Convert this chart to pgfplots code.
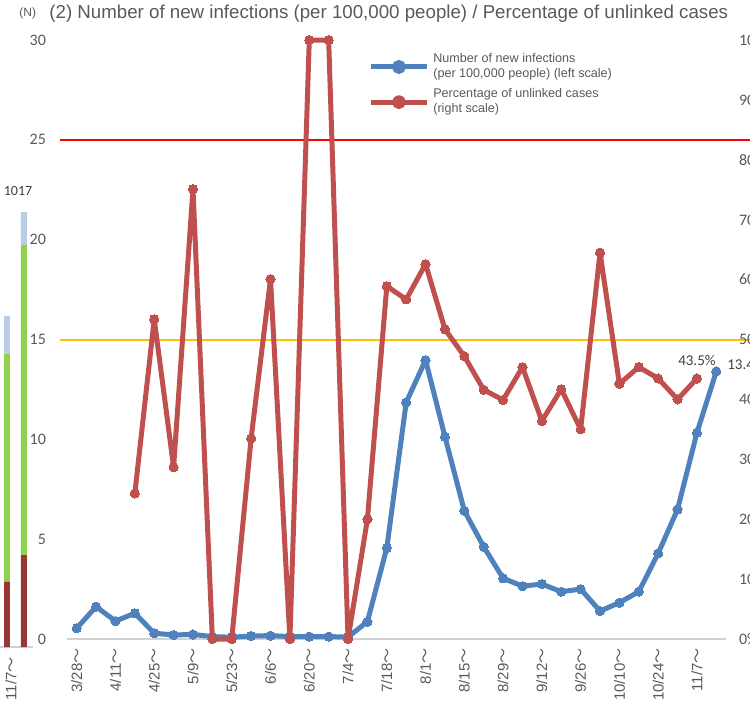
\documentclass[border=0pt]{standalone}
\usepackage{fontspec}
\setmainfont{Liberation Sans}
\newfontfamily\calf{Carlito}
\newfontfamily\cjk{Noto Sans CJK JP}
\usepackage{pgfplots}
\usepackage{pgfplotstable}
\pgfplotsset{compat=1.18}
\definecolor{cblue}{HTML}{4F81BD}
\definecolor{cred}{HTML}{C0504D}
\definecolor{txt}{HTML}{595959}
\definecolor{dred}{HTML}{953735}
\definecolor{grn}{HTML}{92D050}
\definecolor{lblue}{HTML}{B9CDE5}
\definecolor{thrY}{HTML}{FFC000}
\newcommand{\tl}{{\cjk ～}}

\pgfplotstableread{
idx val
0 0.54
1 1.62
2 0.90
3 1.29
4 0.29
5 0.20
6 0.23
7 0.12
8 0.09
9 0.15
10 0.17
11 0.12
12 0.12
13 0.12
14 0.10
15 0.87
16 4.56
17 11.85
18 13.97
19 10.13
20 6.42
21 4.62
22 3.04
23 2.65
24 2.75
25 2.37
26 2.50
27 1.40
28 1.82
29 2.37
30 4.29
31 6.49
32 10.33
33 13.4
}\newinf

\pgfplotstableread{
idx val
3 24.3
4 53.4
5 28.7
6 75.1
7 0
8 0
9 33.5
10 60.1
11 0
12 100
13 100
14 0
15 20.0
16 58.9
17 56.7
18 62.6
19 51.7
20 47.2
21 41.6
22 39.9
23 45.4
24 36.4
25 41.7
26 35.0
27 64.5
28 42.6
29 45.4
30 43.5
31 40.0
32 43.5
}\unlinked

\begin{document}
\begin{tikzpicture}
% neighbouring panel (cut off)
\begin{axis}[at={(0pt,-323.5pt)}, anchor=south west, scale only axis,
  width=16.5pt, height=217.5pt, xmin=0, xmax=33, ymin=0, ymax=1017,
  ybar stacked, bar width=2.9pt,
  axis y line=none, axis x line*=bottom,
  x axis line style={draw=gray!35, line width=1pt, -},
  xtick={11}, xticklabels={11/7\tl}, major tick length=0,
  x tick label style={rotate=90, anchor=east, inner sep=5pt, font=\fontsize{7.5}{7.5}\selectfont, text=txt},
  clip=false]
\addplot[fill=dred, draw=none] coordinates {(7,152) (23.85,215)};
\addplot[fill=grn, draw=none] coordinates {(7,533) (23.85,725)};
\addplot[fill=lblue, draw=none] coordinates {(7,89) (23.85,77)};
\node[font=\calf\fontsize{7}{8}\selectfont, text=black!75] at (axis cs:18,1067) {1017};
\end{axis}

% main axis, left scale
\begin{axis}[at={(33.5pt,-319.5pt)}, anchor=south west, scale only axis,
  width=329.5pt, height=299.5pt,
  xmin=-0.5, xmax=33.5, ymin=0, ymax=30,
  /pgf/number format/assume math mode=true,
  axis y line*=left, axis x line*=bottom,
  x axis line style={draw=gray!35, line width=1pt, -},
  y axis line style={draw=none},
  xtick={0,2,...,32},
  xticklabels={3/28\tl,4/11\tl,4/25\tl,5/9\tl,5/23\tl,6/6\tl,6/20\tl,7/4\tl,7/18\tl,8/1\tl,8/15\tl,8/29\tl,9/12\tl,9/26\tl,10/10\tl,10/24\tl,11/7\tl},
  x tick label style={rotate=90, anchor=east, inner sep=4.5pt, font=\fontsize{7.5}{7.5}\selectfont, text=txt},
  ytick={0,5,...,30},
  y tick label style={font=\calf\fontsize{8}{8}\selectfont, text=txt, xshift=-7pt},
  major tick length=0,
  clip=false]
\addplot[red, line width=1pt, forget plot] coordinates {(-0.86,25) (37,25)};
\addplot[thrY, line width=1pt, forget plot] coordinates {(-0.86,15) (37,15)};
\addplot[cblue, line width=2.5pt, line join=round, mark=*, mark size=2.3pt, mark options={fill=cblue, draw=cblue, line width=0pt}] table[x=idx, y=val] {\newinf};
\node[anchor=west, font=\calf\fontsize{7.5}{8}\selectfont, text=black!75, xshift=2pt, yshift=3.5pt] at (axis cs:33,13.4) {13.4};
\end{axis}

% right scale
\begin{axis}[at={(33.5pt,-319.5pt)}, anchor=south west, scale only axis,
  width=329.5pt, height=299.5pt,
  xmin=-0.5, xmax=33.5, ymin=0, ymax=100,
  /pgf/number format/assume math mode=true,
  axis y line*=right, axis x line=none,
  y axis line style={draw=none},
  ytick={0,10,...,100},
  yticklabel={\pgfmathprintnumber{\tick}\%},
  y tick label style={anchor=west, font=\calf\fontsize{8}{8}\selectfont, text=txt, xshift=3pt},
  major tick length=0,
  clip=false,
  legend style={at={(rel axis cs:0.457,0.985)}, anchor=north west, draw=none, fill=none,
    inner sep=0pt, row sep=0pt, font=\fontsize{6.3}{7.5}\selectfont, text=txt, cells={align=left}},
  legend cell align=left,
  legend image code/.code={\draw[mark=none,#1] (0cm,0cm) -- (0.98cm,0cm); \fill[#1] (0.49cm,0cm) circle (2.2pt);}]
\addlegendimage{cblue, line width=2.5pt}
\addlegendentry{Number of new infections\\(per 100,000 people) (left scale)}
\addplot[cred, line width=2.5pt, line join=round, mark=*, mark size=2.3pt, mark options={fill=cred, draw=cred, line width=0pt}] table[x=idx, y=val] {\unlinked};
\addlegendentry{Percentage of unlinked cases\\(right scale)}
\node[anchor=south, font=\calf\fontsize{7.5}{8}\selectfont, text=black!75, yshift=3pt] at (axis cs:32,43.5) {43.5\%};
\end{axis}

\node[anchor=west, inner sep=0pt, font=\fontsize{6}{6}\selectfont, text=txt] at (9.5pt,-6.5pt) {(N)};
\node[anchor=west, inner sep=0pt, font=\fontsize{9.35}{10}\selectfont, text=txt] at (24.5pt,-7pt) {(2) Number of new infections (per 100,000 people) / Percentage of unlinked cases};

\pgfresetboundingbox
\useasboundingbox (0,0) rectangle (375pt,-353.5pt);
\end{tikzpicture}
\end{document}
